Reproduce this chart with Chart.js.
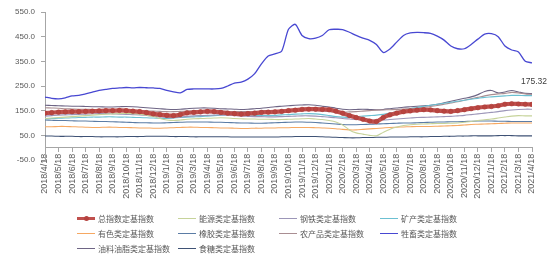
<!DOCTYPE html>
<html><head><meta charset="utf-8">
<script src="https://cdn.jsdelivr.net/npm/chart.js@4/dist/chart.umd.min.js"></script>
<style>
html,body{margin:0;padding:0;background:#fff;}
#wrap{position:relative;width:554px;height:263px;}
#legend{position:absolute;left:77px;top:211px;display:grid;grid-template-columns:101px 101px 101px 101px;grid-auto-rows:15px;font-family:"Noto Sans CJK SC","Noto Sans",sans-serif;font-size:8px;color:#595959;}
.item{display:flex;align-items:center;white-space:nowrap;}
.sw{position:relative;width:18px;height:1.3px;margin-right:3px;flex:none;}
.sw .dot{position:absolute;left:6.5px;width:5px;height:5px;border-radius:50%;}
</style></head>
<body>
<div id="wrap"><canvas id="c" width="554" height="263"></canvas><div id="legend"></div></div>
<script>
// Monthly x-axis labels (x = month index; data sampled every half month)
const tickLabels = ["2018/4/18","2018/5/18","2018/6/18","2018/7/18","2018/8/18","2018/9/18","2018/10/18","2018/11/18","2018/12/18",
"2019/1/18","2019/2/18","2019/3/18","2019/4/18","2019/5/18","2019/6/18","2019/7/18","2019/8/18","2019/9/18","2019/10/18","2019/11/18","2019/12/18",
"2020/1/18","2020/2/18","2020/3/18","2020/4/18","2020/5/18","2020/6/18","2020/7/18","2020/8/18","2020/9/18","2020/10/18","2020/11/18","2020/12/18",
"2021/1/18","2021/2/18","2021/3/18","2021/4/18"];
const seriesNames = ["总指数定基指数","能源类定基指数","钢铁类定基指数","矿产类定基指数","有色类定基指数","橡胶类定基指数","农产品类定基指数","牲畜类定基指数","油料油脂类定基指数","食糖类定基指数"];

const totalIdx = [140,142,144,145,146,146,147,148,149,150,150,151,
 150,148,146,142,137,134,131,130,134,141,143,145,
 147,146,143,140,138,136,138,140,143,144,145,147,
 150,152,155,156,156,155,154,148,140,130,122,115,
 108,106,122,133,140,146,149,152,154,153,150,148,
 147,150,154,158,162,165,167,170,176,178,177,176,175.32];
const energy = [118,120,122,124,126,128,130,132,134,136,137,138,
 139,138,136,132,126,118,112,110,112,115,117,118,
 119,120,121,120,118,117,116,116,115,115,114,114,
 115,116,117,118,116,114,110,104,92,72,60,55,
 50,48,62,75,84,90,93,95,96,97,98,98,
 99,100,103,106,110,113,116,120,124,128,130,129,129];
const steel = [128,130,132,133,134,135,136,137,138,138,137,136,
 135,134,133,131,128,125,122,121,124,127,129,130,
 131,132,133,132,130,128,127,126,126,125,125,126,
 127,128,129,129,128,126,124,121,118,116,114,113,
 112,111,112,114,116,118,120,122,123,124,125,126,
 127,129,131,134,137,140,143,146,150,153,155,156,156];
const mineral = [117,118,119,120,121,122,123,124,124,125,125,124,
 124,123,122,121,120,119,118,120,122,124,125,126,
 128,130,132,134,136,135,133,131,130,130,131,133,
 134,136,137,138,137,134,130,126,124,123,126,128,
 130,132,135,140,146,152,158,163,168,172,176,180,
 184,188,192,196,200,204,206,208,210,212,212,211,211];
const nonferrous = [85,85,86,86,85,84,83,82,82,83,83,82,
 82,81,80,80,79,79,80,81,82,83,83,82,
 82,81,80,80,79,78,78,79,79,80,80,81,
 81,82,82,82,81,80,79,77,74,72,72,74,
 76,78,80,82,83,84,85,86,86,86,87,88,
 89,90,92,94,95,96,97,98,99,100,100,100,100];
const rubber = [112,111,110,110,109,108,108,107,106,106,105,104,
 103,102,101,101,100,100,101,102,103,104,104,104,
 104,103,103,102,101,100,100,99,99,100,101,102,
 103,104,104,103,102,100,98,96,94,93,93,94,
 95,96,97,98,99,100,100,101,102,103,104,104,
 105,105,106,107,108,108,108,107,107,106,106,106,106];
const agri = [162,161,160,158,157,156,156,155,155,154,154,153,
 152,151,150,149,148,147,146,146,147,148,149,150,
 150,149,148,147,146,146,146,147,148,149,150,151,
 152,152,153,152,150,148,146,145,144,145,146,148,
 150,152,153,154,155,157,159,161,164,167,171,176,
 181,186,192,198,204,210,215,218,220,224,222,218,216];
const livestock = [205,200,198,202,210,212,218,225,232,236,240,242,
 244,242,244,243,242,240,232,226,222,236,238,238,
 238,238,240,250,262,266,278,300,340,372,380,392,
 480,500,455,442,444,455,478,480,479,468,455,444,
 435,418,386,400,428,455,465,467,466,463,452,436,
 412,401,401,418,440,460,462,450,412,396,388,350,344];
const oilseed = [172,171,170,169,168,168,167,166,166,165,165,166,
 167,166,164,162,160,158,156,155,156,158,160,161,
 161,160,158,157,156,155,156,158,160,163,166,168,
 170,172,173,174,172,168,165,160,156,154,155,156,
 155,154,155,158,161,164,166,168,170,172,176,182,
 188,194,200,206,215,228,232,222,226,232,226,220,219];
const sugar = [47,47,46,46,46,45,45,45,44,44,44,44,
 45,45,45,46,46,46,46,45,45,45,44,44,
 44,44,44,44,43,43,43,43,43,43,43,44,
 44,45,45,45,45,44,43,42,41,40,40,41,
 41,42,42,43,43,43,44,44,44,45,45,46,
 46,47,47,48,48,48,48,49,49,49,48,48,48];
const yTicks = [-50, 550, 100];

const allSeries = [totalIdx, energy, steel, mineral, nonferrous, rubber, agri, livestock, oilseed, sugar];
const colors = ["#C0504D","#C6D39A","#9C96B8","#6CC0D2","#F6A862","#5B7CA5","#A98E92","#4848D2","#6E6585","#3F5275"];
const pts = arr => arr.map((v, i) => ({x: i / 2, y: v}));

const datasets = allSeries.map((arr, k) => {
  const main = k === 0;
  return {
    label: seriesNames[k],
    data: pts(arr),
    borderColor: colors[k],
    backgroundColor: colors[k],
    borderWidth: main ? 4.2 : (k === 7 ? 1.3 : 1.1),
    pointRadius: main ? 2.3 : 0,
    pointHoverRadius: 0,
    pointBackgroundColor: "#B8443F",
    pointBorderColor: "#A83C3A",
    pointBorderWidth: 0.5,
    tension: 0.25,
    fill: false
  };
});

const endLabel = {
  id: 'endLabel',
  afterDatasetsDraw(chart) {
    const meta = chart.getDatasetMeta(0);
    const p = meta.data[meta.data.length - 1];
    const ctx = chart.ctx;
    ctx.save();
    ctx.font = '8.5px "Liberation Sans", Arial, sans-serif';
    ctx.fillStyle = '#404040';
    ctx.textAlign = 'center';
    ctx.textBaseline = 'middle';
    ctx.fillText(totalIdx[totalIdx.length - 1].toFixed(2), p.x + 2, p.y - 23);
    ctx.restore();
  }
};

new Chart(document.getElementById('c'), {
  type: 'line',
  data: { datasets },
  options: {
    responsive: false,
    animation: false,
    events: [],
    layout: { padding: { top: 12, right: 22, bottom: 103, left: 0 } },
    plugins: { legend: { display: false }, tooltip: { enabled: false } },
    scales: {
      x: {
        type: 'linear',
        position: { y: 0 },
        min: 0, max: tickLabels.length - 1,
        border: { color: '#A6A6A6', width: 1 },
        grid: { drawOnChartArea: false, drawTicks: true, tickLength: 4, color: '#A6A6A6' },
        ticks: {
          stepSize: 1, autoSkip: false, maxRotation: 90, minRotation: 90, padding: 2,
          color: '#595959', font: { size: 9, family: '"Liberation Sans", Arial, sans-serif' },
          callback: v => tickLabels[v]
        }
      },
      y: {
        min: yTicks[0], max: yTicks[1],
        border: { color: '#A6A6A6', width: 1 },
        grid: { drawOnChartArea: false, drawTicks: true, tickLength: 4, color: '#A6A6A6' },
        afterFit: s => { s.width = 45; },
        ticks: {
          stepSize: yTicks[2], padding: 6,
          color: '#595959', font: { size: 8, family: '"Liberation Sans", Arial, sans-serif' },
          callback: v => v.toFixed(1)
        }
      }
    }
  },
  plugins: [endLabel]
});

// HTML legend built from the series names/colors
const lg = document.getElementById('legend');
seriesNames.forEach((name, k) => {
  const it = document.createElement('div');
  it.className = 'item';
  const sw = document.createElement('span');
  sw.className = 'sw';
  sw.style.background = colors[k];
  if (k === 0) {
    sw.style.height = '3px';
    const d = document.createElement('span');
    d.className = 'dot';
    d.style.background = '#B5423F';
    d.style.top = '-1px';
    sw.appendChild(d);
  }
  it.appendChild(sw);
  const t = document.createElement('span');
  t.textContent = name;
  it.appendChild(t);
  lg.appendChild(it);
});
</script>
</body></html>
